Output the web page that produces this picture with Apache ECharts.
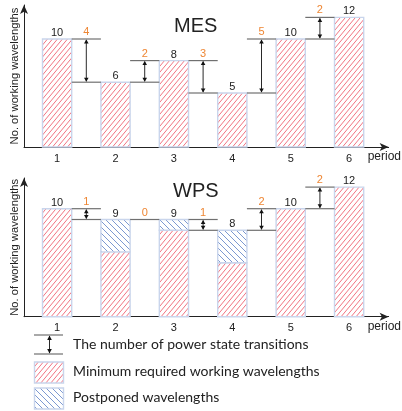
<!DOCTYPE html>
<html>
<head>
<meta charset="utf-8">
<script src="https://cdn.jsdelivr.net/npm/echarts@6/dist/echarts.min.js"></script>
<style>
  html, body { margin: 0; padding: 0; background: #fff; }
  #chart { width: 402px; height: 411px; }
</style>
</head>
<body>
<div id="chart"></div>
<script>
// Periods on the horizontal axis
const periods = [1, 2, 3, 4, 5, 6];
// MES: working wavelengths per period
const mesWorking = [10, 6, 8, 5, 10, 12];
// WPS: minimum required wavelengths and wavelengths postponed into later periods
const wpsMinimum = [10, 6, 8, 5, 10, 12];
const wpsPostponed = [0, 3, 1, 3, 0, 0];

const panelTitles = ['MES', 'WPS'];
const yAxisName = 'No. of working wavelengths';
const xAxisName = 'period';
const legendLabels = [
  'The number of power state transitions',
  'Minimum required working wavelengths',
  'Postponed wavelengths'
];

const wpsWorking = wpsMinimum.map((v, i) => v + wpsPostponed[i]);

const FONT = '"Liberation Sans", Arial, sans-serif';
const LEGEND_FONT = 'Lato, "Open Sans", sans-serif';
const ORANGE = '#EE8633';
const LINE_GRAY = '#707070';
const BAR_EDGE = '#c9d5ec';

// Diagonal hatch tiles
function hatch(color, forward, w, h) {
  const c = document.createElement('canvas');
  c.width = w; c.height = h;
  const ctx = c.getContext('2d');
  ctx.fillStyle = '#fff';
  ctx.fillRect(0, 0, w, h);
  ctx.strokeStyle = color;
  ctx.lineWidth = 1;
  ctx.beginPath();
  for (let k = -1; k <= 1; k++) {
    if (forward) {
      ctx.moveTo(k * w, h); ctx.lineTo(k * w + w, 0);
    } else {
      ctx.moveTo(k * w, 0); ctx.lineTo(k * w + w, h);
    }
  }
  ctx.stroke();
  return { image: c, repeat: 'repeat' };
}
const redHatch = hatch('rgba(235,55,75,0.7)', true, 5, 6);
const blueHatch = hatch('rgba(70,110,190,0.7)', false, 6, 6);

const BAR_RATIO = 0.5;

function barSeries(name, axis, lows, highs, fill) {
  return {
    type: 'custom', name, xAxisIndex: axis, yAxisIndex: axis,
    data: periods.map((p, i) => [p, lows[i], highs[i]]),
    encode: { x: 0, y: [1, 2] },
    renderItem: function (params, api) {
      const x = api.value(0), lo = api.value(1), hi = api.value(2);
      if (hi <= lo) return null;
      const a = api.coord([x, hi]);
      const b = api.coord([x, lo]);
      const w = api.size([1, 0])[0] * BAR_RATIO;
      return {
        type: 'rect',
        shape: { x: a[0] - w / 2, y: a[1], width: w, height: b[1] - a[1] },
        style: { fill: fill, stroke: BAR_EDGE, lineWidth: 1.4 }
      };
    }
  };
}

function totalLabelSeries(axis, totals) {
  return {
    type: 'custom', xAxisIndex: axis, yAxisIndex: axis, silent: true,
    data: periods.map((p, i) => [p, totals[i]]),
    renderItem: function (params, api) {
      const pt = api.coord([api.value(0), api.value(1)]);
      return {
        type: 'text',
        style: {
          x: pt[0], y: pt[1] - 0.5, text: String(api.value(1)),
          align: 'center', verticalAlign: 'bottom',
          font: '11px ' + FONT, fill: '#222'
        }
      };
    }
  };
}

// Power state transitions between consecutive periods
function transitionSeries(name, axis, totals) {
  const data = [];
  for (let i = 0; i < totals.length - 1; i++) {
    data.push([periods[i], periods[i + 1], totals[i], totals[i + 1]]);
  }
  return {
    type: 'custom', name, xAxisIndex: axis, yAxisIndex: axis, silent: true,
    data,
    renderItem: function (params, api) {
      const x0 = api.value(0), x1 = api.value(1);
      const v0 = api.value(2), v1 = api.value(3);
      const half = api.size([1, 0])[0] * BAR_RATIO / 2;
      const left = api.coord([x0, v0])[0] + half;
      const right = api.coord([x1, v1])[0] - half;
      const yA = api.coord([x0, Math.max(v0, v1)])[1];
      const yB = api.coord([x0, Math.min(v0, v1)])[1];
      const mid = (left + right) / 2;
      const children = [
        { type: 'line', shape: { x1: left, y1: yA, x2: right, y2: yA },
          style: { stroke: LINE_GRAY, lineWidth: 1.2 } }
      ];
      if (yB - yA > 0.5) {
        const hh = 4.5, hw = 2.3;
        children.push(
          { type: 'line', shape: { x1: left, y1: yB, x2: right, y2: yB },
            style: { stroke: LINE_GRAY, lineWidth: 1.2 } },
          { type: 'line', shape: { x1: mid, y1: yA + 1, x2: mid, y2: yB - 1 },
            style: { stroke: '#111', lineWidth: 0.9 } },
          { type: 'polygon', shape: { points: [[mid, yA + 0.5], [mid - hw, yA + hh], [mid + hw, yA + hh]] },
            style: { fill: '#111' } },
          { type: 'polygon', shape: { points: [[mid, yB - 0.5], [mid - hw, yB - hh], [mid + hw, yB - hh]] },
            style: { fill: '#111' } }
        );
      }
      children.push({
        type: 'text',
        style: {
          x: mid, y: yA - 1.5, text: String(Math.abs(v1 - v0)),
          align: 'center', verticalAlign: 'bottom',
          font: '11px ' + FONT, fill: ORANGE
        }
      });
      return { type: 'group', children };
    }
  };
}

const UNIT = 10.8;
const grids = [
  { left: 24, width: 369, top: 5, height: 142 },
  { left: 24, width: 369, top: 178, height: 138.7 }
];

function xAxisFor(i) {
  return {
    type: 'value', gridIndex: i, min: 0.433, max: 6.677,
    name: xAxisName, nameLocation: 'end', nameGap: -21,
    nameTextStyle: { fontFamily: FONT, fontSize: 12, color: '#222', align: 'left', verticalAlign: 'top', padding: [4, 0, 0, 0] },
    axisLine: { show: true, lineStyle: { color: '#222', width: 1 }, symbol: ['none', 'arrow'], symbolSize: [6, 9] },
    axisTick: { show: false },
    splitLine: { show: false },
    axisLabel: {
      customValues: periods, margin: 6,
      fontFamily: FONT, fontSize: 11, color: '#222'
    }
  };
}
function yAxisFor(i) {
  return {
    type: 'value', gridIndex: i, min: 0, max: grids[i].height / UNIT,
    name: yAxisName, nameLocation: 'middle', nameGap: 4, nameRotate: 90,
    nameTextStyle: { fontFamily: FONT, fontSize: 11.2, color: '#222' },
    axisLine: { show: true, onZero: false, lineStyle: { color: '#222', width: 1 }, symbol: ['none', 'arrow'], symbolSize: [6, 9] },
    axisTick: { show: false },
    axisLabel: { show: false },
    splitLine: { show: false }
  };
}

const legendTop = 335;
const legendGraphic = [
  { type: 'line', shape: { x1: 34, y1: legendTop, x2: 63, y2: legendTop }, style: { stroke: LINE_GRAY, lineWidth: 1.2 } },
  { type: 'line', shape: { x1: 34, y1: legendTop + 19, x2: 63, y2: legendTop + 19 }, style: { stroke: LINE_GRAY, lineWidth: 1.2 } },
  { type: 'line', shape: { x1: 49.5, y1: legendTop + 1, x2: 49.5, y2: legendTop + 18 }, style: { stroke: '#111', lineWidth: 0.9 } },
  { type: 'polygon', shape: { points: [[49.5, legendTop + 0.5], [47.2, legendTop + 5], [51.8, legendTop + 5]] }, style: { fill: '#111' } },
  { type: 'polygon', shape: { points: [[49.5, legendTop + 18.5], [47.2, legendTop + 14], [51.8, legendTop + 14]] }, style: { fill: '#111' } },
  { type: 'rect', shape: { x: 34.5, y: 362, width: 29, height: 21 }, style: { fill: redHatch, stroke: BAR_EDGE, lineWidth: 1.4 } },
  { type: 'rect', shape: { x: 34.5, y: 388, width: 29, height: 21 }, style: { fill: blueHatch, stroke: BAR_EDGE, lineWidth: 1.4 } }
].concat(legendLabels.map((t, i) => ({
  type: 'text', left: 73, top: [337.5, 364, 390][i],
  style: { text: t, font: '14px ' + LEGEND_FONT, fill: '#222' }
})));

const chart = echarts.init(document.getElementById('chart'), null, { renderer: 'canvas' });
chart.setOption({
  animation: false,
  backgroundColor: '#fff',
  title: [
    { text: panelTitles[0], left: 174, top: 16, padding: 0, textStyle: { fontFamily: FONT, fontSize: 20, fontWeight: 'normal', color: '#222' } },
    { text: panelTitles[1], left: 173, top: 181, padding: 0, textStyle: { fontFamily: FONT, fontSize: 20, fontWeight: 'normal', color: '#222' } }
  ],
  grid: grids,
  xAxis: [xAxisFor(0), xAxisFor(1)],
  yAxis: [yAxisFor(0), yAxisFor(1)],
  graphic: legendGraphic,
  series: [
    barSeries(legendLabels[1], 0, periods.map(() => 0), mesWorking, redHatch),
    transitionSeries(legendLabels[0], 0, mesWorking),
    totalLabelSeries(0, mesWorking),
    barSeries(legendLabels[1], 1, periods.map(() => 0), wpsMinimum, redHatch),
    barSeries(legendLabels[2], 1, wpsMinimum, wpsWorking, blueHatch),
    transitionSeries(legendLabels[0], 1, wpsWorking),
    totalLabelSeries(1, wpsWorking)
  ]
});
</script>
</body>
</html>
